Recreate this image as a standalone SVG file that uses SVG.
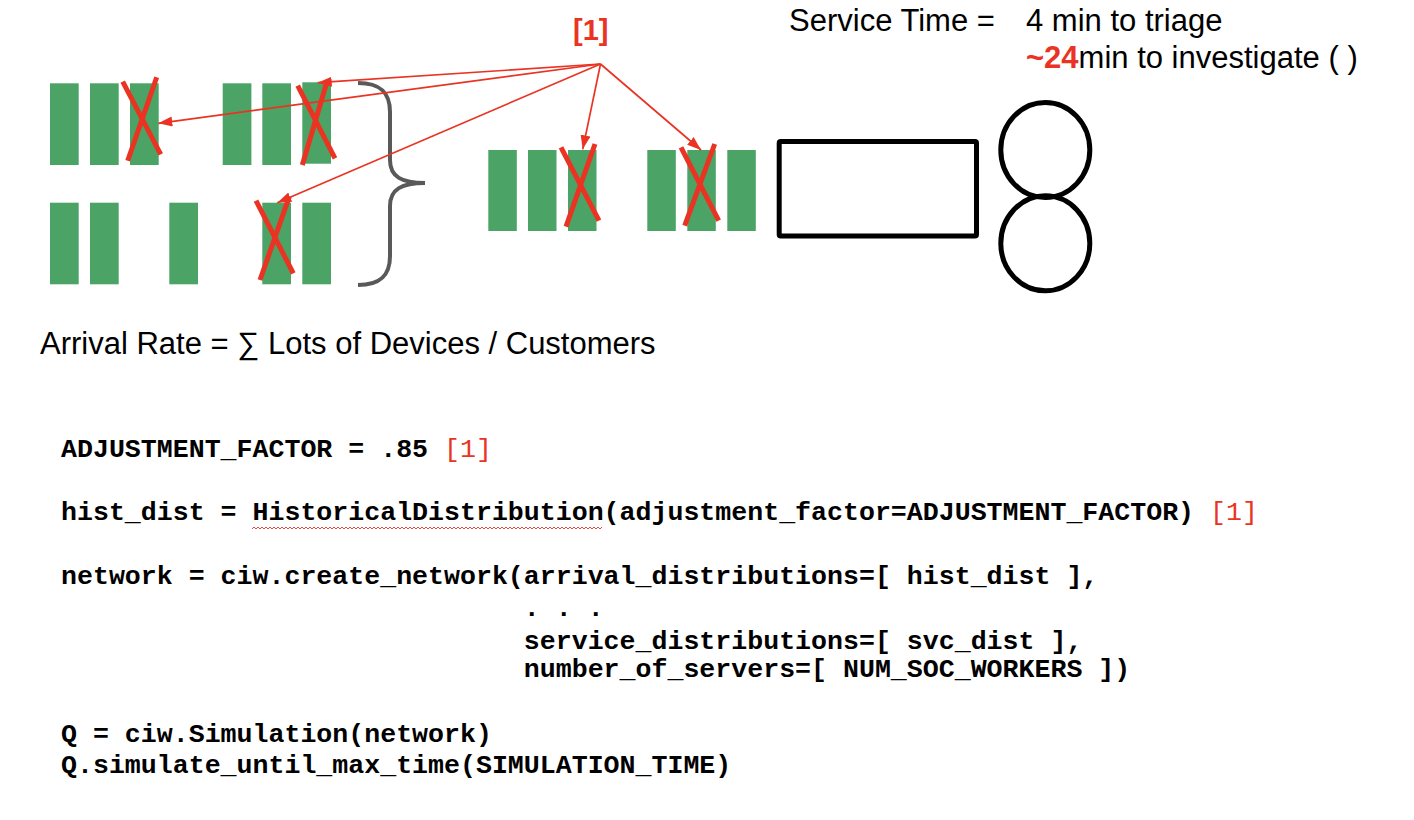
<svg xmlns="http://www.w3.org/2000/svg" width="1414" height="820" viewBox="0 0 1414 820">
<style>
  .dev { fill: #4BA465; }
  .x { stroke: #EA3323; stroke-width: 5; stroke-linecap: butt; fill: none; }
  .conn { stroke: #EA3323; stroke-width: 1.7; fill: none; marker-end: url(#ah); }
  .sans { font-family: "Liberation Sans", Arial, sans-serif; font-size: 31px; fill: #000; }
  .red { fill: #EA3323; }
  .code { font-family: "Liberation Mono", "Courier New", monospace; font-size: 26.6px; font-weight: bold; fill: #000; }
  .coderef { font-family: "Liberation Mono", "Courier New", monospace; font-size: 26.6px; font-weight: normal; fill: #EA3323; }
  .outline { fill: none; stroke: #000; stroke-width: 5; }
</style>
<defs>
  <marker id="ah" markerUnits="userSpaceOnUse" markerWidth="14" markerHeight="10" refX="14" refY="5" orient="auto">
    <path d="M0,0 L14,5 L0,10 z" fill="#EA3323"/>
  </marker>
  <pattern id="wavy" patternUnits="userSpaceOnUse" x="0" y="526" width="4" height="4">
    <path d="M0,3 L2,1 L4,3" fill="none" stroke="#E8392A" stroke-width="0.9"/>
  </pattern>
</defs>
<rect width="1414" height="820" fill="#fff"/>

<g id="arrivals-top">
  <rect class="dev" x="50" y="83.3" width="28.7" height="81.7"/>
  <rect class="dev" x="90" y="83.3" width="28.7" height="81.7"/>
  <rect class="dev" x="130" y="83.3" width="28.7" height="81.7"/>
  <rect class="dev" x="222.7" y="83.3" width="28.7" height="81.7"/>
  <rect class="dev" x="262.3" y="83.3" width="28.7" height="81.7"/>
  <rect class="dev" x="302.3" y="82.3" width="28.7" height="81.4"/>
  <line class="x" x1="122.7" y1="81.7" x2="160.7" y2="154.3"/>
  <line class="x" x1="156.7" y1="77.3" x2="127.7" y2="160.7"/>
  <line class="x" x1="297.7" y1="85.7" x2="335" y2="158.3"/>
  <line class="x" x1="327.3" y1="80.7" x2="302.3" y2="165"/>
</g>

<g id="arrivals-bottom">
  <rect class="dev" x="50" y="202.7" width="28.7" height="81.6"/>
  <rect class="dev" x="90" y="202.7" width="28.7" height="81.6"/>
  <rect class="dev" x="169.3" y="202.7" width="28.7" height="81.6"/>
  <rect class="dev" x="262.3" y="202.7" width="28.7" height="81.6"/>
  <rect class="dev" x="302.3" y="202.7" width="28.7" height="81.6"/>
  <line class="x" x1="256" y1="200.7" x2="293.3" y2="273.3"/>
  <line class="x" x1="289.3" y1="196.7" x2="260" y2="280"/>
</g>

<g id="brace">
  <path d="M358,83 C380,83 390,92 390,112 L390,160 C390,177 402,183 425,183 C402,183 390,189 390,206 L390,256 C390,276 380,285 358,285" fill="none" stroke="#595959" stroke-width="4"/>
</g>

<g id="queue">
  <rect class="dev" x="488.3" y="150" width="28.5" height="81"/>
  <rect class="dev" x="528" y="150" width="28.5" height="81"/>
  <rect class="dev" x="568" y="150" width="28.5" height="81"/>
  <rect class="dev" x="647.3" y="150" width="28.5" height="81"/>
  <rect class="dev" x="687.3" y="150" width="28.5" height="81"/>
  <rect class="dev" x="727.3" y="150" width="28.5" height="81"/>
  <line class="x" x1="561" y1="147.3" x2="599" y2="220.7"/>
  <line class="x" x1="595" y1="144" x2="566" y2="226.7"/>
  <line class="x" x1="681" y1="147.3" x2="718.7" y2="220.7"/>
  <line class="x" x1="714.7" y1="144" x2="684.7" y2="225.7"/>
</g>

<g id="server-box">
  <rect class="outline" x="779.2" y="141.5" width="197.3" height="94.5" rx="1.5"/>
</g>

<g id="servers">
  <ellipse class="outline" cx="1045.3" cy="150" rx="44.5" ry="47.5"/>
  <ellipse class="outline" cx="1045.3" cy="243.3" rx="44.5" ry="47.5"/>
</g>

<g id="ref-label">
  <text x="573" y="40" font-family="Liberation Sans, Arial, sans-serif" font-size="29" font-weight="bold" class="red">[1]</text>
</g>

<g id="connectors">
  <line class="conn" x1="600.5" y1="64" x2="317.7" y2="82.7"/>
  <line class="conn" x1="600.5" y1="64" x2="158.3" y2="123.3"/>
  <line class="conn" x1="600.5" y1="64" x2="277.3" y2="202.7"/>
  <line class="conn" x1="600.5" y1="64" x2="582.7" y2="149.3"/>
  <line class="conn" x1="600.5" y1="64" x2="701" y2="150"/>
</g>

<g id="service-time">
  <text class="sans" x="789" y="30.7">Service Time =</text>
  <text class="sans" x="1026" y="30.7">4 min to triage</text>
  <text class="sans" x="1026" y="68.3"><tspan class="red" font-weight="bold">~24</tspan>min to investigate ( )</text>
</g>

<g id="arrival-rate">
  <text class="sans" x="40" y="354">Arrival Rate = ∑ Lots of Devices / Customers</text>
</g>

<g id="code">
  <text class="code" x="61" y="457">ADJUSTMENT_FACTOR = .85</text>
  <text class="coderef" x="444" y="457">[1]</text>
  <text class="code" x="61" y="519.5">hist_dist = HistoricalDistribution(adjustment_factor=ADJUSTMENT_FACTOR)</text>
  <text class="coderef" x="1210" y="519.5">[1]</text>
  <rect x="252" y="526" width="350" height="4" fill="url(#wavy)"/>
  <text class="code" x="61" y="583.5">network = ciw.create_network(arrival_distributions=[ hist_dist ],</text>
  <text class="code" x="523.8" y="616" xml:space="preserve">. . .</text>
  <text class="code" x="523.8" y="648.5">service_distributions=[ svc_dist ],</text>
  <text class="code" x="523.8" y="677">number_of_servers=[ NUM_SOC_WORKERS ])</text>
  <text class="code" x="61" y="741.5">Q = ciw.Simulation(network)</text>
  <text class="code" x="61" y="772.5">Q.simulate_until_max_time(SIMULATION_TIME)</text>
</g>
</svg>
